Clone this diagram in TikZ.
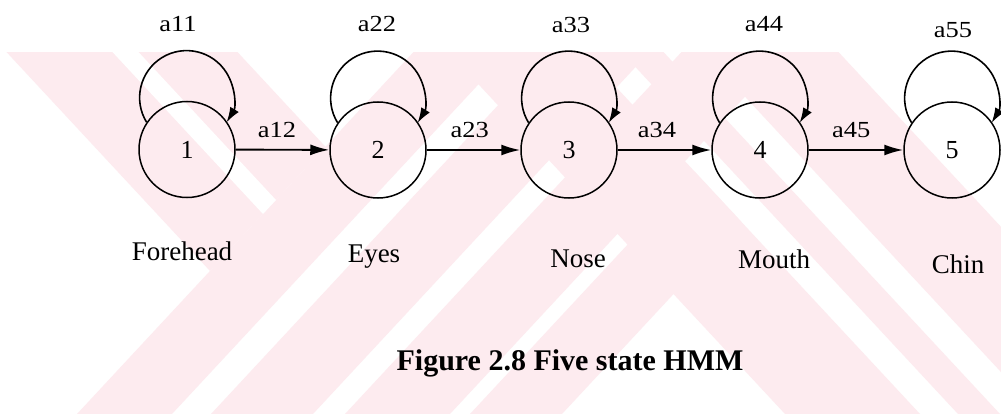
\documentclass[tikz,border=0pt]{standalone}
\usepackage{fontspec}
\setmainfont{Liberation Serif}
\newfontfamily\probfont[FakeStretch=1.15]{Liberation Serif}
\usetikzlibrary{arrows.meta}
\definecolor{wmpink}{RGB}{253,235,239}
\begin{document}
\begin{tikzpicture}[x=1pt,y=-1pt,
  state/.style={circle, draw, line width=1.5pt, minimum size=96pt, inner sep=0pt,
    font=\fontsize{26}{26}\selectfont},
  trans/.style={draw, line width=1.9pt, -{Latex[length=19pt,width=11pt]}},
  selfloop/.style={draw, line width=1.6pt, -{Latex[length=15pt,width=10pt]}},
  prob/.style={font=\probfont\fontsize{23}{23}\selectfont, inner sep=0pt, anchor=base},
  part/.style={font=\fontsize{27}{27}\selectfont, inner sep=0pt, anchor=base},
  caption/.style={font=\bfseries\fontsize{30}{30}\selectfont, inner sep=0pt, anchor=base}]

% page
\fill[white] (0,0) rectangle (1001,414);
\useasboundingbox (0,0) rectangle (1001,414);

% faint striped background emblem
\begin{scope}
  \clip (0,53) rectangle (1001,414);
  % rising stripes
  \fill[wmpink] (77,414)--(172,414)--(529,30)--(434,30)--cycle;
  \fill[wmpink] (211,414)--(313,414)--(670,30)--(568,30)--cycle;
  \fill[wmpink] (345,414)--(450,414)--(807,30)--(702,30)--cycle;
  \fill[wmpink] (470,414)--(562,414)--(741,221.5)--(695,172.1)--cycle;
  % falling stripes
  \fill[wmpink] (785,414)--(920,414)--(563,30)--(428,30)--cycle;
  \fill[wmpink] (958,414)--(1000,414)--(643,30)--(601,30)--cycle;
  \fill[wmpink] (1040,414)--(1175,414)--(818,30)--(683,30)--cycle;
  % upper left band with its inner gap
  \fill[wmpink] (-14,30)--(217,30)--(325.5,146.8)--(210,271)--cycle;
  \fill[white] (92,30)--(118,30)--(276,200)--(263,214)--cycle;
\end{scope}

% states
\node[state] (n1) at (187,149.5) {1};
\node[state] (n2) at (378,150) {2};
\node[state] (n3) at (569,150) {3};
\node[state] (n4) at (760,150) {4};
\node[state] (n5) at (952,150) {5};

% self transitions
\foreach \s in {1,...,5}
  \draw[selfloop] (n\s.146) arc[start angle=148.4, end angle=391.6, radius=47];

\node[prob] (p11) at (178,32) {a11};
\node[prob] (p22) at (377,32) {a22};
\node[prob] (p33) at (571,33) {a33};
\node[prob] (p44) at (764,32) {a44};
\node[prob] (p55) at (953,38) {a55};

% forward transitions
\draw[trans] (n1) -- (n2) node[prob, pos=0.44, yshift=12pt] (p12) {a12};
\draw[trans] (n2) -- (n3) node[prob, pos=0.46, yshift=12pt] (p23) {a23};
\draw[trans] (n3) -- (n4) node[prob, pos=0.42, yshift=12pt] (p34) {a34};
\draw[trans] (n4) -- (n5) node[prob, pos=0.45, yshift=12pt] (p45) {a45};

% face regions
\node[part] (f1) at (182,260) {Forehead};
\node[part] (f2) at (374,262) {Eyes};
\node[part] (f3) at (578,267) {Nose};
\node[part] (f4) at (774,268) {Mouth};
\node[part] (f5) at (958,273) {Chin};

\node[caption] (cap) at (570,370) {Figure 2.8 Five state HMM};
\end{tikzpicture}
\end{document}
